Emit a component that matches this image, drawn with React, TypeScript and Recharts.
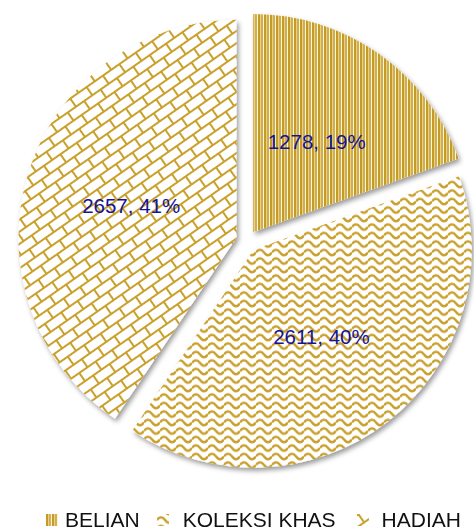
import React from 'react';
import { PieChart, Pie, Cell, Legend, Sector } from 'recharts';

// values
const categories = ['BELIAN', 'KOLEKSI KHAS', 'HADIAH'];
const counts = [1278, 2611, 2657];
const percentLabels = ['19%', '40%', '41%'];
const patternIds = ['pat-belian', 'pat-koleksi', 'pat-hadiah'];

const data = categories.map((name, i) => ({ name, value: counts[i] }));

const GOLD = '#C9A12C';
const RADIAN = Math.PI / 180;
const EXPLODE = 11;
const FONT = '"Liberation Sans", Arial, sans-serif';

// legend spacing (item gap before icon, icon-to-text gap)
const LEGEND_GAPS = [[46, 7], [17, 14], [21, 13]];

const offsetFor = (midAngle: number, dist: number) => ({
    dx: dist * Math.cos(-midAngle * RADIAN),
    dy: dist * Math.sin(-midAngle * RADIAN),
});

// each slice pulled out a bit along its middle angle
const ExplodedSector = (props: any) => {
    const { cx, cy, midAngle, outerRadius, startAngle, endAngle, fill } = props;
    const { dx, dy } = offsetFor(midAngle, EXPLODE);
    return (
        <Sector
            cx={cx + dx}
            cy={cy + dy}
            innerRadius={0}
            outerRadius={outerRadius}
            startAngle={startAngle}
            endAngle={endAngle}
            fill={fill}
            stroke="none"
            filter="url(#slice-shadow)"
        />
    );
};

const renderLabel = (props: any) => {
    const { cx, cy, midAngle, outerRadius, index, value } = props;
    const { dx, dy } = offsetFor(midAngle, EXPLODE + outerRadius * 0.505);
    return (
        <text
            x={cx + dx}
            y={cy + dy}
            textAnchor="middle"
            dominantBaseline="central"
            fill="#14149A"
            fontSize={20.5}
            fontFamily={FONT}
        >
            {`${value}, ${percentLabels[index]}`}
        </text>
    );
};

const LegendContent = () => (
    <div style={{ display: 'flex', alignItems: 'center', fontFamily: FONT, fontSize: 21, color: '#111' }}>
        {categories.map((name, i) => (
            <div key={name} style={{ display: 'flex', alignItems: 'center', marginLeft: LEGEND_GAPS[i][0] }}>
                <svg width={12} height={12} style={{ marginRight: LEGEND_GAPS[i][1] }}>
                    <rect width={12} height={12} fill={`url(#${patternIds[i]})`} />
                </svg>
                <span>{name}</span>
            </div>
        ))}
    </div>
);

const App: React.FC = () => {
    return (
        <div style={{ position: 'fixed', left: 0, top: 0, width: 474, height: 531, background: '#fff' }}>
            <PieChart width={474} height={531} margin={{ top: 0, right: 0, bottom: 0, left: 0 }}>
                <defs>
                    <filter id="slice-shadow" x="-10%" y="-10%" width="130%" height="130%">
                        <feDropShadow dx={2} dy={3} stdDeviation={2.5} floodColor="#000" floodOpacity={0.4} />
                    </filter>
                    {/* vertical stripes */}
                    <pattern id="pat-belian" patternUnits="userSpaceOnUse" width={6} height={6}>
                        <rect width={6} height={6} fill="#FBF4DE" />
                        <rect x={0} width={2} height={6} fill="#C49B26" />
                        <rect x={2} width={1} height={6} fill="#E6CF8E" />
                        <rect x={3} width={2} height={6} fill="#D2B04A" />
                    </pattern>
                    {/* wavy lines */}
                    <pattern id="pat-koleksi" patternUnits="userSpaceOnUse" width={16} height={8.5}>
                        <rect width={16} height={8.5} fill="#fff" />
                        <path d="M0 6 Q4 0.5 8 6 T16 6" fill="none" stroke={GOLD} strokeWidth={2.4} />
                        <path d="M0 -2.5 Q4 -8 8 -2.5 T16 -2.5" fill="none" stroke={GOLD} strokeWidth={2.4} />
                    </pattern>
                    {/* diagonal bricks */}
                    <pattern id="pat-hadiah" patternUnits="userSpaceOnUse" width={20} height={20} patternTransform="rotate(-35)">
                        <rect width={20} height={20} fill="#fff" />
                        <path d="M0 1 H20 M0 11 H20 M1 0 V10 M11 10 V20" fill="none" stroke={GOLD} strokeWidth={2} />
                    </pattern>
                </defs>
                <Pie
                    data={data}
                    dataKey="value"
                    cx={247}
                    cy={241}
                    outerRadius={218}
                    startAngle={90}
                    endAngle={-270}
                    stroke="none"
                    labelLine={false}
                    label={renderLabel}
                    shape={ExplodedSector}
                    activeShape={ExplodedSector}
                    isAnimationActive={false}
                >
                    {data.map((entry, index) => (
                        <Cell key={`cell-${index}`} fill={`url(#${patternIds[index]})`} />
                    ))}
                </Pie>
                <Legend content={<LegendContent />} wrapperStyle={{ top: 508, left: 0, width: 474 }} />
            </PieChart>
        </div>
    );
};

export default App;
